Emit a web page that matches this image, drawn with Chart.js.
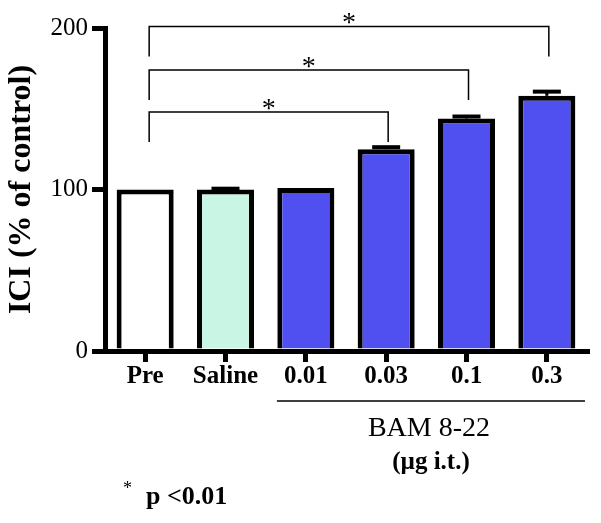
<!DOCTYPE html>
<html>
<head>
<meta charset="utf-8">
<script src="https://cdn.jsdelivr.net/npm/chart.js@4.4.0/dist/chart.umd.min.js"></script>
<style>
  html, body { margin: 0; padding: 0; background: #fff; }
  #wrap { width: 601px; height: 523px; }
</style>
</head>
<body>
<div id="wrap"><canvas id="iciChart" width="601" height="523"></canvas></div>
<script>
// data
const categories = ['Pre', 'Saline', '0.01', '0.03', '0.1', '0.3'];
const iciValues = [100, 100, 101, 125, 144, 158];
const iciErrors = [0, 0.5, 0, 1.2, 1.2, 2.6];
const barColors = ['#ffffff', '#c8f5e4', '#5050f0', '#5050f0', '#5050f0', '#5050f0'];
const yTicks = [0, 100, 200];
// significance brackets: from, to, bracket level (y units)
const comparisons = [
    ['Pre', '0.03', 148],
    ['Pre', '0.1', 174],
    ['Pre', '0.3', 201]
];

const SERIF = '"Liberation Serif", "Times New Roman", serif';
Chart.defaults.font.family = SERIF;
Chart.defaults.color = '#000';

// error bars on top of the bars
const errorBars = {
    id: 'errorBars',
    afterDatasetsDraw(chart) {
        const ctx = chart.ctx;
        const y = chart.scales.y;
        const meta = chart.getDatasetMeta(0);
        ctx.save();
        ctx.fillStyle = '#000';
        meta.data.forEach((bar, i) => {
            const err = iciErrors[i];
            if (!err) return;
            const top = y.getPixelForValue(iciValues[i] + err);
            ctx.fillRect(bar.x - 1.5, top, 3, bar.y - top);
            ctx.fillRect(bar.x - 14, top - 2, 28, 4);
        });
        ctx.restore();
    }
};

// brackets, stars and the text under the axis
const annotations = {
    id: 'annotations',
    afterDraw(chart) {
        const ctx = chart.ctx;
        const x = chart.scales.x;
        const y = chart.scales.y;
        ctx.save();
        ctx.strokeStyle = '#000';
        ctx.fillStyle = '#000';
        ctx.lineWidth = 1.5;

        comparisons.forEach(([from, to, level]) => {
            const x1 = x.getPixelForValue(categories.indexOf(from)) + 4;
            const x2 = x.getPixelForValue(categories.indexOf(to)) + 2;
            const yl = y.getPixelForValue(level);
            ctx.beginPath();
            ctx.moveTo(x1, yl + 30);
            ctx.lineTo(x1, yl);
            ctx.lineTo(x2, yl);
            ctx.lineTo(x2, yl + 30);
            ctx.stroke();
            ctx.font = '28px ' + SERIF;
            ctx.textAlign = 'center';
            ctx.textBaseline = 'alphabetic';
            ctx.fillText('*', (x1 + x2) / 2, yl + 5);
        });

        // BAM 8-22 group line
        const gx1 = x.getPixelForValue(1.64);
        const gx2 = x.right - 2;
        const gy = 401;
        ctx.beginPath();
        ctx.moveTo(gx1, gy);
        ctx.lineTo(gx2, gy);
        ctx.stroke();

        const mid = (gx1 + gx2) / 2;
        ctx.textAlign = 'center';
        ctx.textBaseline = 'middle';
        ctx.font = '28px ' + SERIF;
        ctx.fillText('BAM 8-22', mid - 2, 429);
        ctx.font = 'bold 25px ' + SERIF;
        ctx.fillText('(\u00b5g i.t.)', mid, 463);

        ctx.textAlign = 'left';
        ctx.font = '18px ' + SERIF;
        ctx.fillText('*', 123, 489);
        ctx.font = 'bold 26px ' + SERIF;
        ctx.fillText('p <0.01', 146, 497);
        ctx.restore();
    }
};

new Chart(document.getElementById('iciChart'), {
    type: 'bar',
    data: {
        labels: categories,
        datasets: [{
            data: iciValues,
            backgroundColor: barColors,
            borderColor: '#000',
            borderWidth: 5,
            barPercentage: 0.71,
            categoryPercentage: 1
        }]
    },
    options: {
        responsive: false,
        animation: false,
        layout: { padding: { top: 28, right: 14, bottom: 0, left: 0 } },
        plugins: {
            legend: { display: false },
            tooltip: { enabled: false }
        },
        scales: {
            x: {
                grid: {
                    offset: false,
                    drawOnChartArea: false,
                    drawTicks: true,
                    tickLength: 11,
                    lineWidth: 5,
                    tickWidth: 5,
                    color: '#000'
                },
                border: { display: true, width: 5, color: '#000' },
                ticks: {
                    font: { size: 25, weight: 'bold' },
                    color: '#000',
                    padding: 0,
                    maxRotation: 0,
                    autoSkip: false
                },
                afterFit: scale => { scale.height = 172; }
            },
            y: {
                min: 0,
                max: 200,
                afterBuildTicks: scale => { scale.ticks = yTicks.map(v => ({ value: v })); },
                grid: {
                    drawOnChartArea: false,
                    drawTicks: true,
                    tickLength: 13,
                    lineWidth: 5,
                    tickWidth: 5,
                    color: '#000'
                },
                border: { display: true, width: 5, color: '#000' },
                ticks: {
                    font: { size: 25 },
                    color: '#000',
                    padding: 4
                },
                title: {
                    display: true,
                    text: 'ICI (% of control)',
                    font: { size: 32, weight: 'bold' },
                    color: '#000',
                    padding: { top: 3, bottom: 0 }
                },
                afterFit: scale => { scale.width = 105; }
            }
        }
    },
    plugins: [errorBars, annotations]
});
</script>
</body>
</html>
